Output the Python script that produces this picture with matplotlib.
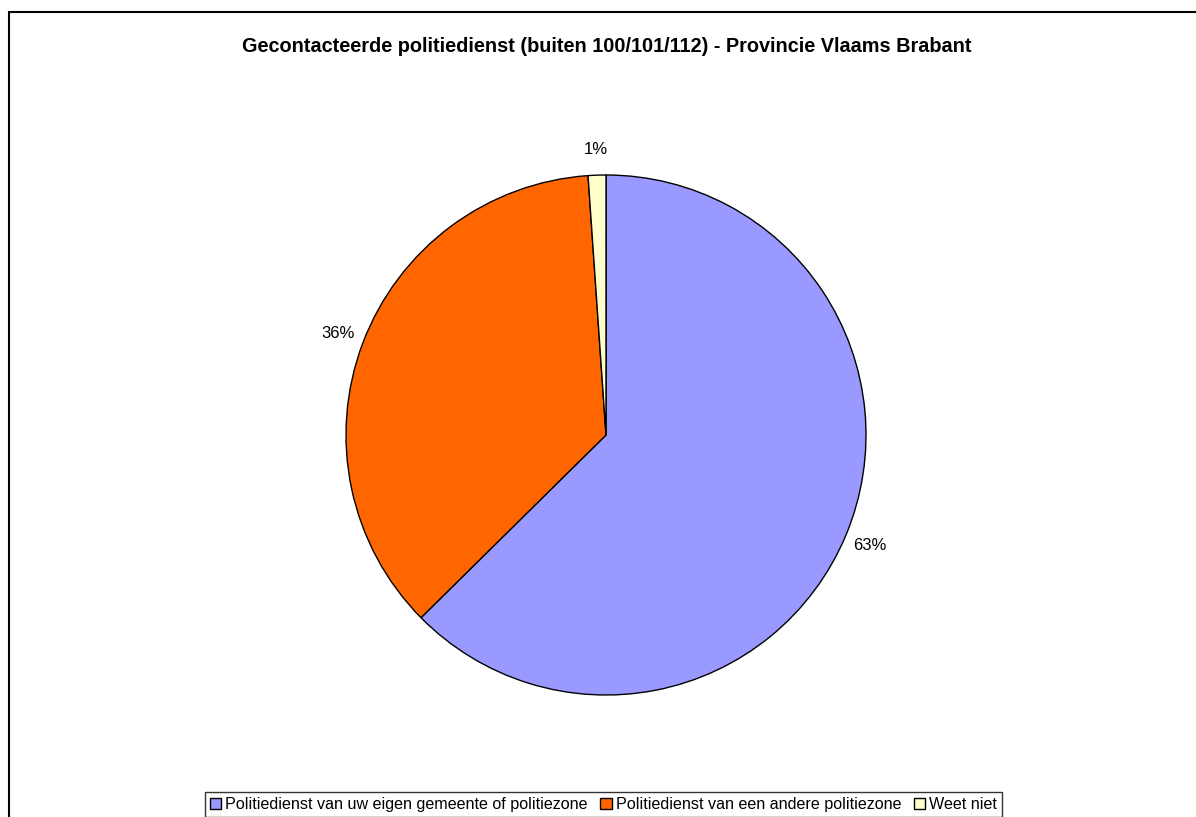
import matplotlib.pyplot as plt
from matplotlib.patches import Rectangle

plt.rcParams['font.family'] = ['Liberation Sans', 'DejaVu Sans']

# data
categories = ["Politiedienst van uw eigen gemeente of politiezone",
              "Politiedienst van een andere politiezone",
              "Weet niet"]
shares = [62.6, 36.3, 1.1]
colors = ["#9999FF", "#FF6600", "#FFFFCC"]
title = "Gecontacteerde politiedienst (buiten 100/101/112) - Provincie Vlaams Brabant"

W, H = 1196, 817
fig = plt.figure(figsize=(W / 100, H / 100), dpi=100)

# outer chart border (right and bottom run off the image)
fig.patches.append(Rectangle((9 / W, -0.02), 1.05, 1 - 12 / H + 0.02,
                             transform=fig.transFigure, fill=False,
                             edgecolor="black", linewidth=1.5))

fig.text(607 / W, 1 - 47 / H, title, ha="center", va="center",
         fontsize=14.3, fontweight="bold")

# pie axes: centre (606, 435), radius 260 px
ax = fig.add_axes([346 / W, (H - 695) / H, 520 / W, 520 / H])
wedges, texts, autotexts = ax.pie(
    shares, colors=colors, startangle=90, counterclock=False,
    autopct=lambda p: f"{p:.0f}%", pctdistance=1.1,
    wedgeprops=dict(edgecolor="black", linewidth=1),
    textprops=dict(fontsize=12))
ax.set_xlim(-1, 1)
ax.set_ylim(-1, 1)
ax.set_aspect("equal")
ax.axis("off")

leg = fig.legend(wedges, categories, loc="upper center", ncol=3,
                 bbox_to_anchor=(603.5 / W, 1 - 792 / H), fontsize=11.6,
                 frameon=True, fancybox=False, handlelength=0.7,
                 handleheight=0.7, handletextpad=0.25, columnspacing=0.8,
                 borderpad=0.3, borderaxespad=0)
leg.get_frame().set_edgecolor("black")
leg.get_frame().set_linewidth(1)
for h in leg.legend_handles:
    h.set_edgecolor("black")
    h.set_linewidth(1)

fig.savefig("out.png", dpi=100)
